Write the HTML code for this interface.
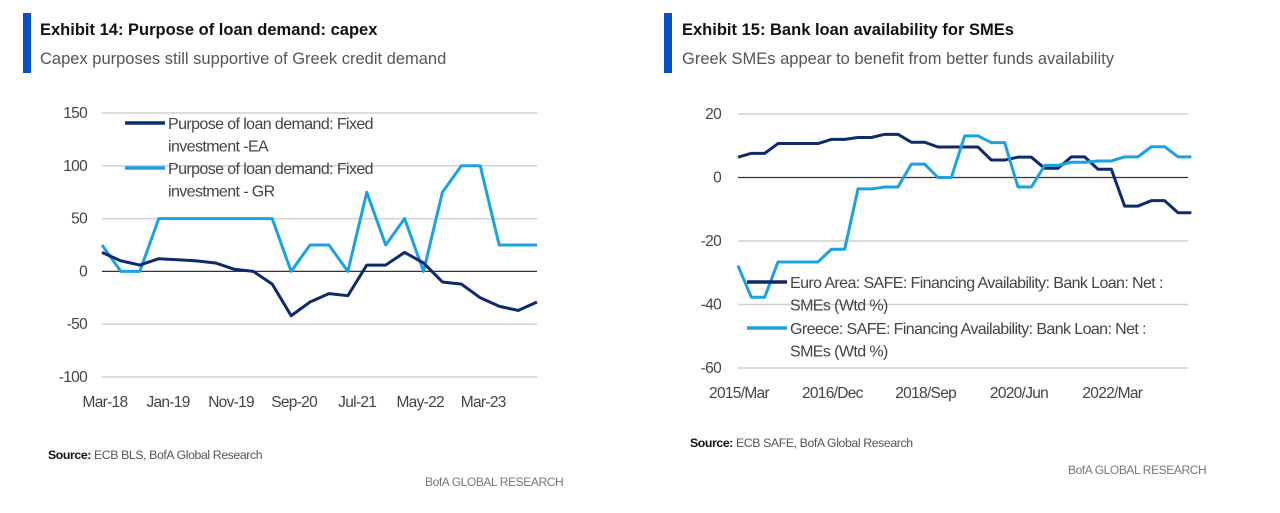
<!DOCTYPE html>
<html><head><meta charset="utf-8">
<style>
html,body{margin:0;padding:0;background:#fff;width:1280px;height:513px;overflow:hidden}
svg{display:block;font-family:"Liberation Sans",sans-serif}
.t{font-weight:bold;font-size:16.5px;fill:#111}
.s{font-size:16.5px;fill:#555}
.tk{font-size:15.5px;fill:#444;letter-spacing:-0.7px}
.lg{font-size:16px;fill:#444;letter-spacing:-0.6px}
.src{font-size:12.3px;fill:#555;letter-spacing:-0.4px}
.ft{font-size:12px;fill:#777;letter-spacing:-0.4px}
</style></head><body>
<svg id="svg" width="1280" height="513">
<rect x="23" y="13" width="8" height="60" fill="#0a4fc8"/>
<text x="40" y="35" class="t">Exhibit 14: Purpose of loan demand: capex</text>
<text x="40" y="64" class="s">Capex purposes still supportive of Greek credit demand</text>
<rect x="664" y="13" width="8" height="60" fill="#0a4fc8"/>
<text x="682" y="35" class="t">Exhibit 15: Bank loan availability for SMEs</text>
<text x="682" y="64" class="s">Greek SMEs appear to benefit from better funds availability</text>
<g id="c1"></g>
<g id="c2"></g>
<text x="48" y="459" class="src"><tspan font-weight="bold" fill="#111">Source:</tspan> ECB BLS, BofA Global Research</text>
<text x="425" y="486" class="ft">BofA GLOBAL RESEARCH</text>
<text x="690" y="447" class="src"><tspan font-weight="bold" fill="#111">Source:</tspan> ECB SAFE, BofA Global Research</text>
<text x="1068" y="474" class="ft">BofA GLOBAL RESEARCH</text>
</svg>
<script>
// Chart 14 data (quarterly, Mar-18 .. Dec-23)
const c1Labels = ["Mar-18","Jan-19","Nov-19","Sep-20","Jul-21","May-22","Mar-23"];
const c1Ticks = [150,100,50,0,-50,-100];
const c1EA = [18,10,6,12,11,10,8,2,0,-12,-42,-29,-21,-23,6,6,18,8,-10,-12,-25,-33,-37,-29];
const c1GR = [25,0,0,50,50,50,50,50,50,50,0,25,25,0,75,25,50,0,75,100,100,25,25,25];
// Chart 15 data (quarterly, 2015/Mar ..)
const c2Labels = ["2015/Mar","2016/Dec","2018/Sep","2020/Jun","2022/Mar"];
const c2Ticks = [20,0,-20,-40,-60];
const c2EA = [6.4,7.6,7.6,10.7,10.7,10.7,10.7,12,12,12.6,12.6,13.6,13.6,11.1,11.1,9.6,9.6,9.6,9.6,5.5,5.5,6.4,6.4,2.9,2.9,6.5,6.5,2.6,2.6,-9,-9,-7.3,-7.3,-11.1,-11.1];
const c2GR = [-27.8,-37.7,-37.7,-26.6,-26.6,-26.6,-26.6,-22.6,-22.6,-3.6,-3.6,-3,-3,4.2,4.2,0,0,13.1,13.1,11,11,-3,-3,3.8,3.8,4.8,4.8,5.2,5.2,6.5,6.5,9.7,9.7,6.5,6.5];

const NS="http://www.w3.org/2000/svg";
function mk(tag,attrs,parent){const e=document.createElementNS(NS,tag);for(const k in attrs)e.setAttribute(k,attrs[k]);parent.appendChild(e);return e;}

function chart(g,o){
  const sx=v=>o.x0+(v-o.d0)/(o.d1-o.d0)*(o.x1-o.x0);
  const sy=v=>o.y0+(o.t0-v)/(o.t0-o.t1)*(o.y1-o.y0);
  o.ticks.forEach(t=>{
    const l=mk('line',{x1:o.x0,x2:o.x1,y1:sy(t),y2:sy(t),stroke:t===0?'#333':'#d0d0d0','stroke-width':t===0?1.3:1.5},g);
    
    
    const tx=mk('text',{x:o.tx,y:sy(t)+5,'text-anchor':'end',class:'tk'},g);
    tx.textContent=String(t);
    
    
  });
  o.labels.forEach((lb,i)=>{
    const tx=mk('text',{x:sx(i*o.lstep)+o.ldx,y:o.ly,'text-anchor':o.lanchor,class:'tk'},g);
    tx.textContent=lb;
    
    
  });
  o.series.forEach(s=>{
    const pts=s.v.map((v,i)=>sx(i*o.step)+','+sy(v)).join(' ');
    const p=mk('polyline',{points:pts,fill:'none',stroke:s.c,'stroke-width':3,'stroke-linejoin':'round'},g);
    
    
  });
  o.legend.forEach(L=>{
    const ln=mk('line',{x1:L.x,x2:L.x+40,y1:L.y,y2:L.y,stroke:L.c,'stroke-width':3.5},g);
    
    
    L.lines.forEach((t,j)=>{
      const tx=mk('text',{x:L.x+43,y:L.y+6+j*22.5,class:'lg'},g);
      tx.textContent=t;
      
      
    });
  });
}
chart(document.getElementById('c1'),{x0:102,x1:537,d0:0,d1:69,y0:113,y1:377,t0:150,t1:-100,
  ticks:c1Ticks,tx:87,labels:c1Labels,lstep:10,ldx:3,ly:407,lanchor:'middle',step:3,
  series:[{v:c1GR,c:'#1aa3e0',n:'line-gr'},{v:c1EA,c:'#0d2a6b',n:'line-ea'}],
  legend:[{x:125,y:123,c:'#0d2a6b',lines:['Purpose of loan demand: Fixed','investment -EA']},
          {x:125,y:168,c:'#1aa3e0',lines:['Purpose of loan demand: Fixed','investment - GR']}]});
chart(document.getElementById('c2'),{x0:738,x1:1188,d0:0,d1:33.75,y0:114,y1:368,t0:20,t1:-60,
  ticks:c2Ticks,tx:721,labels:c2Labels,lstep:7,ldx:1,ly:398,lanchor:'middle',step:1,
  series:[{v:c2EA,c:'#0d2a6b',n:'line-euro-area'},{v:c2GR,c:'#1aa3e0',n:'line-greece'}],
  legend:[{x:747,y:282,c:'#0d2a6b',lines:['Euro Area: SAFE: Financing Availability: Bank Loan: Net :','SMEs (Wtd %)']},
          {x:747,y:328,c:'#1aa3e0',lines:['Greece: SAFE: Financing Availability: Bank Loan: Net :','SMEs (Wtd %)']}]});
</script>
</body></html>
